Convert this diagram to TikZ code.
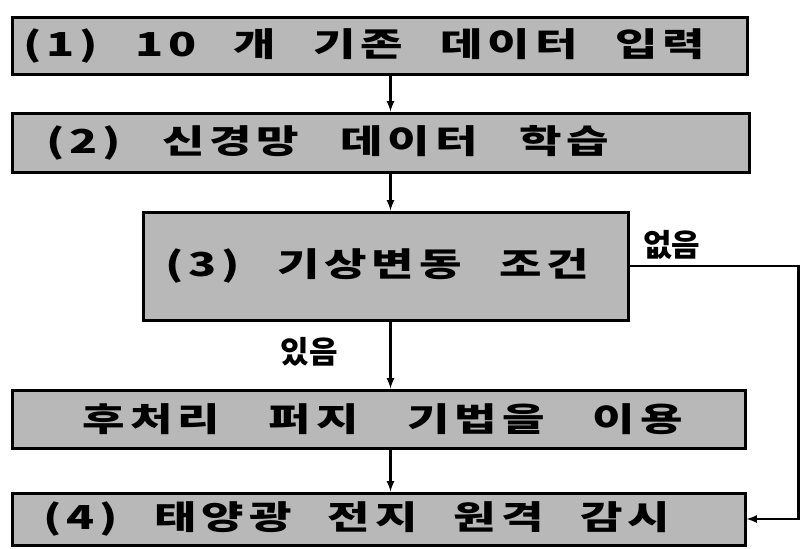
\documentclass[tikz,border=0pt]{standalone}
\usepackage{fontspec}
\newfontfamily\krwide[FakeStretch=1.4,LetterSpace=15]{Noto Sans CJK KR}
\newfontfamily\kr{Noto Sans CJK KR}
\newcommand\spread[3]{\hspace*{#1}\makebox[#2][s]{\spaceskip=4pt plus 1fil\relax #3}}
\usepackage{tikz}

\begin{document}
\begin{tikzpicture}[x=1pt,y=-1pt]
\tikzstyle{every node}=[font=\krwide\bfseries\fontsize{33}{33}\selectfont]
\tikzstyle{box}=[draw,line width=3pt,fill=black!28,inner sep=5pt,align=left]
\tikzstyle{tag}=[font=\kr\bfseries\fontsize{31}{31}\selectfont]
\tikzstyle{flow}=[-latex,line width=2.5pt]
\useasboundingbox (0,0) rectangle (801,549);
\node[box,text width=725pt,minimum height=57pt] (input) at (379.5,45.5) {\spread{6pt}{682pt}{(1) 10 개 기존 데이터 입력}};
\node[box,text width=727pt,minimum height=59pt] (learn) at (380.5,142.5) {\spread{29pt}{563pt}{(2) 신경망 데이터 학습}};
\node[box,text width=475pt,minimum height=108pt] (cond) at (385.5,266) {\spread{17pt}{424pt}{(3) 기상변동 조건}};
\node[box,text width=723pt,minimum height=58pt] (fuzzy) at (378.5,419) {\spread{66pt}{600pt}{후처리 퍼지 기법을 이용}};
\node[box,text width=723pt,minimum height=52pt] (out) at (378.5,519) {\spread{26pt}{627pt}{(4) 태양광 전지 원격 감시}};
\draw[flow]([xshift=11pt]input.south)--([xshift=10pt]learn.north);
\draw[flow]([xshift=10pt]learn.south)--([xshift=5pt]cond.north);
\draw[flow]([xshift=5pt]cond.south)--node[tag,pos=0.45,left=48pt]{있음}([xshift=12pt]fuzzy.north);
\draw[flow]([xshift=12pt]fuzzy.south)--([xshift=12pt]out.north);
\draw[flow](cond.east)--node[tag,above=2pt,pos=0.25]{없음}++(169,0)|-(out.east);
\end{tikzpicture}
\end{document}
